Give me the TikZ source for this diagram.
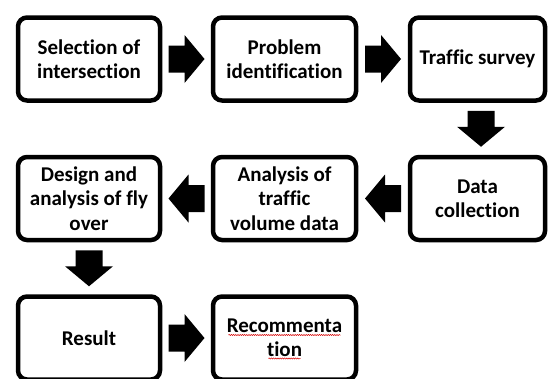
\documentclass[tikz,border=0pt]{standalone}
\usepackage{fontspec}
\setmainfont{Carlito}[Ligatures={NoCommon}]
\usetikzlibrary{calc,decorations.pathmorphing}
\begin{document}
\begin{tikzpicture}[x=1pt,y=-1pt,
  stepbox/.style={draw=black, line width=4.5pt, rounded corners=9pt, fill=white,
    minimum height=83pt, inner sep=2pt, align=center,
    font=\fontsize{21}{24.4}\selectfont\bfseries},
  blockarrow/.pic={\fill[black] (-18,-13.5) -- (-2,-13.5) -- (-2,-24) -- (18,0)
     -- (-2,24) -- (-2,13.5) -- (-18,13.5) -- cycle;},
  squiggle/.style={draw=red!85!black, line width=0.5pt,
    decorate, decoration={snake, segment length=2.2pt, amplitude=0.6pt}}
]
\useasboundingbox (0,0) rectangle (548,378);
% row 1
\node[stepbox, minimum width=142pt] (s1) at (89,59) {Selection of\\intersection};
\node[stepbox, minimum width=143pt] (s2) at (284.5,59) {Problem\\identification};
\node[stepbox, minimum width=135pt] (s3) at (477.5,59) {Traffic survey};
% row 2
\node[stepbox, minimum width=135pt] (s4) at (477.5,198.5) {Data\\collection};
\node[stepbox, minimum width=143pt] (s5) at (284.5,198.5) {Analysis of\\traffic\\volume data};
\node[stepbox, minimum width=142pt] (s6) at (89,198.5) {Design and\\analysis of fly\\over};
% row 3
\node[stepbox, minimum width=142pt] (s7) at (89,338) {Result};
\node[stepbox, minimum width=143pt] (s8) at (284.5,338) {Recommenta\\tion};
% block arrows
\pic (a1) at ($(s1.east)!0.5!(s2.west)$) {blockarrow};
\pic (a2) at ($(s2.east)!0.5!(s3.west)$) {blockarrow};
\pic[rotate=-90] (a3) at ($(s3.south)!0.5!(s4.north)+(3.5,0)$) {blockarrow};
\pic[rotate=180] (a4) at ($(s4.west)!0.5!(s5.east)$) {blockarrow};
\pic[rotate=180] (a5) at ($(s5.west)!0.5!(s6.east)$) {blockarrow};
\pic[rotate=-90] (a6) at ($(s6.south)!0.5!(s7.north)$) {blockarrow};
\pic (a7) at ($(s7.east)!0.5!(s8.west)$) {blockarrow};
% spelling squiggles
\draw[squiggle] ($(s8.center)+(-56,-3)$) -- ($(s8.center)+(56,-3)$);
\draw[squiggle] ($(s8.center)+(-16,20.5)$) -- ($(s8.center)+(16,20.5)$);
\end{tikzpicture}
\end{document}
